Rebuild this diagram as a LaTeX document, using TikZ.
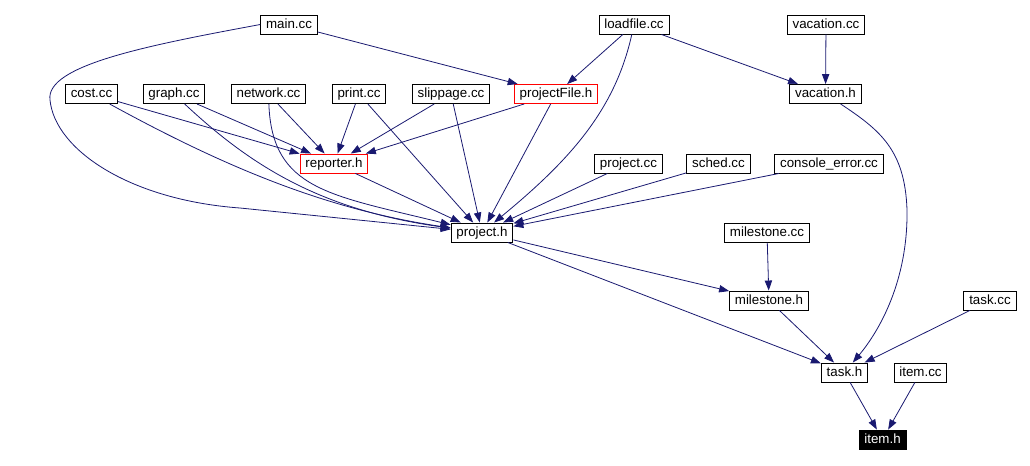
\documentclass[tikz,border=0pt]{standalone}
\usepackage{fontspec}
\setmainfont{Liberation Sans}
\usetikzlibrary{arrows.meta}
\definecolor{edgeblue}{RGB}{25,25,112}
\tikzset{file/.style={draw=black,line width=0.7pt,inner xsep=4pt,inner ysep=0pt,minimum height=14.25pt,text height=7.4pt,text depth=2.1pt,font=\fontsize{10}{12}\selectfont},
         redfile/.style={file,draw=red},
         topfile/.style={file,fill=black,text=white},
         dep/.style={draw=edgeblue,line width=0.6pt,-{Triangle[length=7.5pt,width=5.5pt,fill=edgeblue]}}
}

\begin{document}
\begin{tikzpicture}[x=0.75pt,y=-0.75pt]
  \useasboundingbox(0,0)rectangle(1030,465);
  \node[file](mainc) at (289,24.5){main.cc};
  \node[file](loadc) at (634,24.5){loadfile.cc};
  \node[file](vacc) at (826,24.5){vacation.cc};
  \foreach\nm/\x/\txt in {costc/91.5/cost.cc,graphc/174/graph.cc,netc/268.5/network.cc,printc/359/print.cc,slipc/451/slippage.cc}
     \node[file](\nm) at (\x,94){\txt};
  \node[redfile](pfileh) at (556,94){projectFile.h};
  \node[file](vach) at (825.5,94){vacation.h};
  \node[redfile](reph) at (334,163.5){reporter.h};
  \foreach\nm/\x/\txt in {projc/628.5/project.cc,schedc/718.5/sched.cc,consc/829/console\_error.cc}
     \node[file](\nm) at (\x,163.5){\txt};
  \node[file](projh) at (482,232.5){project.h};
  \node[file](milec) at (767,233){milestone.cc};
  \node[file](mileh) at (769,300.5){milestone.h};
  \node[file](taskc) at (990,300.5){task.cc};
  \node[file](taskh) at (844.5,372.5){task.h};
  \node[file](itemc) at (920.5,372.5){item.cc};
  \node[topfile](itemh) at (882.5,439.5){item.h};
  % straight dependencies
  \foreach\a/\b in {mainc/pfileh,loadc/pfileh,loadc/vach,vacc/vach,costc/reph,graphc/reph,netc/reph,printc/reph,slipc/reph,pfileh/reph,
                    printc/projh,slipc/projh,pfileh/projh,reph/projh,projc/projh,schedc/projh,consc/projh,
                    projh/mileh,projh/taskh,milec/mileh,mileh/taskh,taskc/taskh,taskh/itemh,itemc/itemh}
     \draw[dep](\a)--(\b);
  % bent ones
  \draw[dep](mainc.west)..controls(150,45)and(45,65)..(50,100)..controls(55,150)and(130,200)..(240,208)--(projh);
  \draw[dep](costc)..controls(230,170)and(330,210)..(projh);
  \draw[dep](graphc)..controls(250,165)and(320,210)..(projh);
  \draw[dep](netc)..controls(272,190)and(330,195)..(projh);
  \draw[dep](loadc)..controls(615,110)and(570,160)..(projh);
  \draw[dep](vach)..controls(880,130)and(905,150)..(907,210)..controls(908,280)and(880,330)..(taskh);
\end{tikzpicture}
\end{document}
